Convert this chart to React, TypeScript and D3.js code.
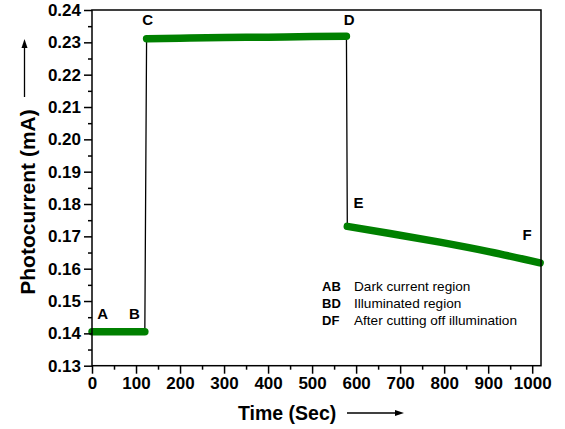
import React, {useEffect, useRef} from 'react';
import * as d3 from 'd3';

// region AB: dark current
const darkTime = [0, 20, 40, 60, 80, 100, 120];
const darkCurrent = [0.1405, 0.1405, 0.1405, 0.1405, 0.1405, 0.1405, 0.1405];
// region BD: illuminated
const lightTime = [124, 200, 300, 400, 500, 578];
const lightCurrent = [0.2311, 0.2313, 0.2315, 0.2316, 0.2318, 0.2319];
// region DF: after cutting off illumination
const decayTime = [580, 677, 790, 904, 1018];
const decayCurrent = [0.1731, 0.1709, 0.1682, 0.1652, 0.1618];

const xTicks = [0, 100, 200, 300, 400, 500, 600, 700, 800, 900, 1000];
const yTicks = [0.13, 0.14, 0.15, 0.16, 0.17, 0.18, 0.19, 0.20, 0.21, 0.22, 0.23, 0.24];

const pointLabels = [
    {text: 'A', t: 12, v: 0.1445},
    {text: 'B', t: 84, v: 0.1445},
    {text: 'C', t: 114, v: 0.2354},
    {text: 'D', t: 572, v: 0.2354},
    {text: 'E', t: 594, v: 0.1788},
    {text: 'F', t: 978, v: 0.1688}
];

const legendKeys = ['AB', 'BD', 'DF'];
const legendTexts = ['Dark current region', 'Illuminated region', 'After cutting off illumination'];

const FONT = '"Liberation Sans", Arial, sans-serif';

export default function App() {
    const ref = useRef<SVGSVGElement>(null);

    useEffect(() => {
        drawChart();
    }, []);

    function drawChart() {
        const svg = d3.select(ref.current);
        svg.selectAll('*').remove();

        const x = d3.scaleLinear().domain([0, 1020]).range([92, 541]);
        const y = d3.scaleLinear().domain([0.13, 0.24]).range([365.7, 10]);

        const segments = [
            darkTime.map((t, i) => [t, darkCurrent[i]]),
            lightTime.map((t, i) => [t, lightCurrent[i]]),
            decayTime.map((t, i) => [t, decayCurrent[i]])
        ];
        const line = d3.line<number[]>().x(d => x(d[0])).y(d => y(d[1]));
        const smooth = d3.line<number[]>().x(d => x(d[0])).y(d => y(d[1])).curve(d3.curveMonotoneX);

        // thin black line through everything
        svg.append('path')
            .attr('d', line(segments.flat()))
            .attr('fill', 'none')
            .attr('stroke', '#000')
            .attr('stroke-width', 1.3);

        // thick green data
        segments.forEach(seg => {
            svg.append('path')
                .attr('d', smooth(seg))
                .attr('fill', 'none')
                .attr('stroke', '#008000')
                .attr('stroke-width', 7.5)
                .attr('stroke-linecap', 'round')
                .attr('stroke-linejoin', 'round');
        });

        // frame
        svg.append('rect')
            .attr('x', 92).attr('y', 10)
            .attr('width', 541 - 92).attr('height', 365.7 - 10)
            .attr('fill', 'none')
            .attr('stroke', '#000')
            .attr('stroke-width', 1.5);

        // x axis
        const xMinor = xTicks.slice(0, -1).map(t => t + 50);
        svg.append('g')
            .attr('transform', 'translate(0,365.7)')
            .call(d3.axisBottom(x).tickValues(xMinor).tickSize(4).tickFormat(() => ''))
            .call(g => g.select('.domain').remove());
        const gx = svg.append('g')
            .attr('transform', 'translate(0,365.7)')
            .call(d3.axisBottom(x).tickValues(xTicks).tickSize(8).tickPadding(3).tickFormat(d3.format('d')));
        gx.select('.domain').remove();

        // y axis
        const yMinor = yTicks.slice(0, -1).map(v => v + 0.005);
        svg.append('g')
            .attr('transform', 'translate(92,0)')
            .call(d3.axisLeft(y).tickValues(yMinor).tickSize(4).tickFormat(() => ''))
            .call(g => g.select('.domain').remove());
        const gy = svg.append('g')
            .attr('transform', 'translate(92,0)')
            .call(d3.axisLeft(y).tickValues(yTicks).tickSize(8).tickPadding(3).tickFormat(d3.format('.2f')));
        gy.select('.domain').remove();

        svg.selectAll('.tick line').attr('stroke', '#000').attr('stroke-width', 1.5);
        svg.selectAll('.tick text')
            .attr('font-family', FONT)
            .attr('font-size', 17)
            .attr('font-weight', 'bold')
            .attr('fill', '#000');

        // point labels
        svg.selectAll('text.pt')
            .data(pointLabels)
            .enter()
            .append('text')
            .attr('class', 'pt')
            .attr('x', d => x(d.t))
            .attr('y', d => y(d.v))
            .attr('font-family', FONT)
            .attr('font-size', 15)
            .attr('font-weight', 'bold')
            .text(d => d.text);

        // legend
        legendKeys.forEach((k, i) => {
            svg.append('text')
                .attr('x', 322).attr('y', 291 + i * 17.2)
                .attr('font-family', FONT)
                .attr('font-size', 13)
                .attr('font-weight', 'bold')
                .text(k);
            svg.append('text')
                .attr('x', 354).attr('y', 291 + i * 17.2)
                .attr('font-family', FONT)
                .attr('font-size', 13.6)
                .text(legendTexts[i]);
        });

        // axis titles
        svg.append('text')
            .attr('x', 238).attr('y', 420)
            .attr('font-family', FONT)
            .attr('font-size', 19.5)
            .attr('font-weight', 'bold')
            .text('Time (Sec)');
        svg.append('text')
            .attr('transform', 'translate(35,202) rotate(-90)')
            .attr('text-anchor', 'middle')
            .attr('font-family', FONT)
            .attr('font-size', 21)
            .attr('font-weight', 'bold')
            .text('Photocurrent (mA)');

        // arrows
        svg.append('line')
            .attr('x1', 347).attr('y1', 413).attr('x2', 398).attr('y2', 413)
            .attr('stroke', '#000').attr('stroke-width', 1.3);
        svg.append('path')
            .attr('d', 'M404,413 L395,410 L395,416 Z')
            .attr('fill', '#000');
        svg.append('line')
            .attr('x1', 24.5).attr('y1', 97).attr('x2', 24.5).attr('y2', 46)
            .attr('stroke', '#000').attr('stroke-width', 1.3);
        svg.append('path')
            .attr('d', 'M24.5,39 L21.5,48 L27.5,48 Z')
            .attr('fill', '#000');
    }

    return (
        <svg ref={ref} width={565} height={429}
             style={{position: 'absolute', left: 0, top: 0, background: '#fff'}}/>
    );
}
